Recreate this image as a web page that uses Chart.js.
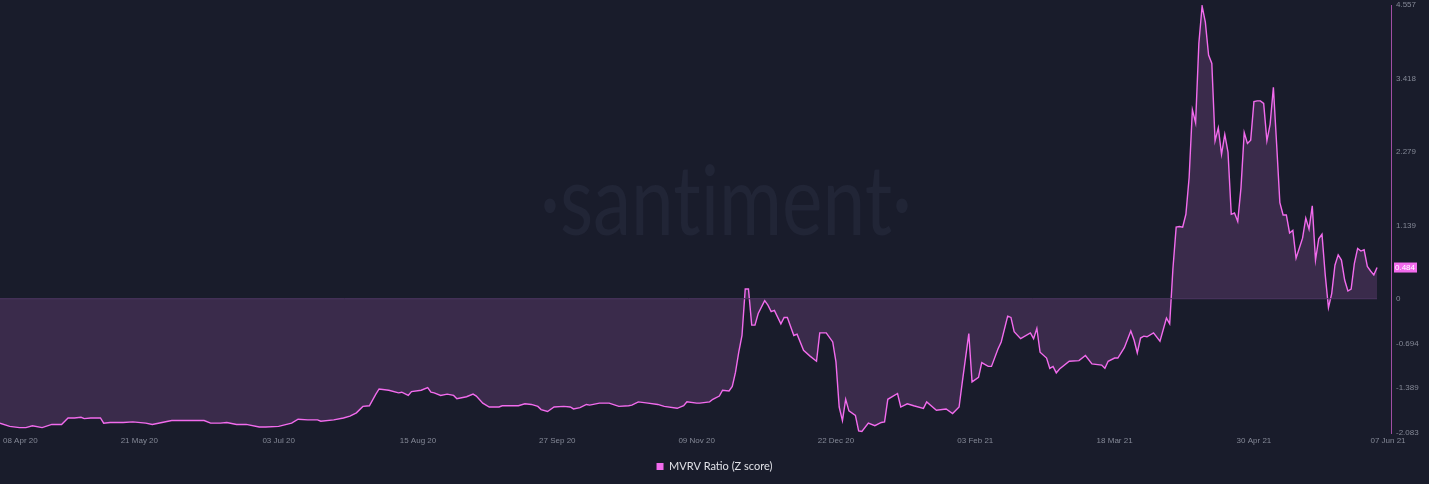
<!DOCTYPE html>
<html>
<head>
<meta charset="utf-8">
<title>MVRV Ratio (Z score)</title>
<script src="https://cdn.jsdelivr.net/npm/chart.js@4.4.1/dist/chart.umd.min.js"></script>
<style>
  html, body { margin: 0; padding: 0; background: #191c2b; }
  #wrap { width: 1429px; height: 484px; position: relative; }
</style>
</head>
<body>
<div id="wrap"><canvas id="mvrvChart"></canvas></div>
<script>
// day number counted from 08 Apr 2020
const days = [
  0, 3, 6, 8, 10, 13, 16, 19, 21, 23, 25, 26, 28, 31, 32, 34, 38, 41, 45, 47, 50,
  53, 56, 63, 65, 68, 70, 73, 76, 80, 82, 86, 90, 92, 95, 98, 99, 103, 106, 108,
  110, 112, 114, 116, 117, 120, 123, 124, 126, 127, 130, 132, 133, 134, 136, 138, 140, 141, 144, 146, 147,
  149, 151, 154, 155, 160, 162, 164, 166, 167, 169, 171, 174, 176, 177, 179, 181, 182, 185, 188, 191, 194,
  195, 197, 200, 203, 205, 209, 211, 212, 215, 216, 219, 220, 222, 223, 225, 226, 227, 228, 229, 230, 231,
  232, 233, 234, 236, 237, 238, 239, 241, 242, 243, 245, 246, 248, 250, 252, 253, 255, 257, 258, 259, 260,
  261, 262, 264, 265, 266, 268, 270, 272, 273, 274, 277, 278, 280, 282, 285, 286, 289, 292, 294, 296, 297,
  299, 300, 302, 303, 305, 306, 308, 309, 311, 312, 313, 315, 318, 319, 320, 321, 323, 324, 325, 326, 327,
  330, 333, 335, 337, 340, 341, 342, 344, 345, 347, 349, 350, 351, 352, 353, 354, 356, 358, 360, 361, 362,
  363, 364, 365, 366, 367, 368, 369, 370, 371, 372, 373, 374, 375, 376, 377, 378, 379, 380, 381, 382, 383,
  384, 385, 386, 387, 388, 389, 390, 391, 392, 393, 394, 395, 396, 397, 398, 399, 400, 402, 403, 404, 405,
  406, 407, 408, 409, 410, 411, 412, 413, 414, 415, 416, 417, 418, 419, 420, 421, 422, 423, 424, 425
];
const mvrv = [
  -1.93, -1.98, -2.00, -2.00, -1.97, -2.00, -1.95, -1.95, -1.85, -1.85, -1.84, -1.86, -1.85, -1.85, -1.93, -1.92, -1.92, -1.91, -1.93, -1.95, -1.92,
  -1.89, -1.89, -1.89, -1.93, -1.93, -1.92, -1.95, -1.95, -1.99, -1.99, -1.98, -1.93, -1.87, -1.88, -1.88, -1.90, -1.88, -1.85, -1.82,
  -1.77, -1.67, -1.66, -1.48, -1.40, -1.42, -1.46, -1.45, -1.50, -1.44, -1.42, -1.38, -1.45, -1.46, -1.50, -1.48, -1.50, -1.55, -1.52, -1.48, -1.51,
  -1.62, -1.68, -1.68, -1.66, -1.66, -1.63, -1.64, -1.67, -1.72, -1.75, -1.68, -1.67, -1.68, -1.71, -1.69, -1.64, -1.65, -1.62, -1.62, -1.67, -1.66,
  -1.65, -1.60, -1.62, -1.64, -1.67, -1.70, -1.66, -1.60, -1.62, -1.62, -1.60, -1.56, -1.51, -1.42, -1.43, -1.36, -1.14, -0.83, -0.57, 0.15, 0.15,
  -0.41, -0.41, -0.23, -0.03, -0.10, -0.20, -0.18, -0.39, -0.29, -0.29, -0.57, -0.55, -0.80, -0.89, -0.97, -0.53, -0.53, -0.67, -0.98, -1.68, -1.89,
  -1.56, -1.74, -1.81, -2.05, -2.06, -1.93, -1.97, -1.92, -1.91, -1.56, -1.47, -1.68, -1.63, -1.66, -1.70, -1.60, -1.73, -1.71, -1.78, -1.68, -1.29,
  -0.54, -1.29, -1.22, -0.99, -1.05, -1.05, -0.78, -0.67, -0.27, -0.29, -0.51, -0.62, -0.53, -0.62, -0.46, -0.83, -0.92, -1.08, -1.05, -1.15, -1.09,
  -0.97, -0.96, -0.88, -1.01, -1.03, -1.08, -0.97, -0.92, -0.92, -0.76, -0.50, -0.64, -0.84, -0.61, -0.58, -0.59, -0.53, -0.66, -0.30, -0.39, 0.47,
  1.11, 1.12, 1.11, 1.31, 1.88, 2.93, 2.73, 3.96, 4.54, 4.29, 3.78, 3.65, 2.45, 2.65, 2.24, 2.55, 2.27, 1.31, 1.33, 1.20, 1.72,
  2.58, 2.41, 2.46, 3.06, 3.07, 3.07, 3.03, 2.45, 2.71, 3.28, 2.40, 1.49, 1.30, 1.30, 1.02, 1.06, 0.63, 0.94, 1.25, 1.08, 1.44,
  0.60, 0.93, 1.00, 0.37, -0.14, 0.08, 0.52, 0.68, 0.60, 0.29, 0.12, 0.15, 0.55, 0.78, 0.74, 0.76, 0.50, 0.43, 0.37, 0.484
];

const tickDays = [0, 43, 86, 129, 172, 215, 258, 301, 344, 387, 425];
const tickLabels = ['08 Apr 20', '21 May 20', '03 Jul 20', '15 Aug 20', '27 Sep 20', '09 Nov 20',
  '22 Dec 20', '03 Feb 21', '18 Mar 21', '30 Apr 21', '07 Jun 21'];
const yTicks = [-2.083, -1.389, -0.694, 0, 1.139, 2.279, 3.418, 4.557];
const yTickLabels = ['-2.083', '-1.389', '-0.694', '0', '1.139', '2.279', '3.418', '4.557'];

const BG = '#191c2b';
const PINK = '#f26bed';
const tickFont = '8px "Liberation Sans", Arial, sans-serif';

const santimentPlugin = {
  id: 'santiment',
  beforeDraw(chart) {
    const ctx = chart.ctx;
    ctx.save();
    ctx.fillStyle = BG;
    ctx.fillRect(0, 0, chart.width, chart.height);
    // watermark (ZWNJ keeps "t" and "i" apart)
    const text = '\u00B7sant\u200Ciment\u00B7';
    ctx.font = '400 96px Lato, sans-serif';
    const w = ctx.measureText(text).width;
    ctx.translate(726, 235);
    ctx.scale(372 / w, 1);
    ctx.fillStyle = '#212536';
    ctx.textAlign = 'center';
    ctx.textBaseline = 'alphabetic';
    ctx.fillText(text, 0, 0);
    ctx.restore();
  },
  afterDraw(chart) {
    const ctx = chart.ctx;
    const area = chart.chartArea;
    const xs = chart.scales.x;
    const ys = chart.scales.y;
    ctx.save();
    ctx.font = tickFont;
    ctx.fillStyle = '#848896';
    ctx.textAlign = 'center';
    ctx.textBaseline = 'middle';
    tickDays.forEach((d, i) => {
      const w = ctx.measureText(tickLabels[i]).width;
      let x = Math.max(xs.getPixelForValue(d), w / 2 + 3);
      if (i === tickDays.length - 1) x = Math.max(x, area.right - 3);
      ctx.fillText(tickLabels[i], x, area.bottom + 8);
    });
    // last value tag
    const last = mvrv[mvrv.length - 1];
    const y = ys.getPixelForValue(last);
    ctx.fillStyle = PINK;
    ctx.fillRect(area.right + 3, y - 5, 23, 10);
    ctx.fillStyle = '#ffffff';
    ctx.textAlign = 'left';
    ctx.fillText(last.toFixed(3), area.right + 4, y + 0.5);
    ctx.restore();
  }
};

const ctx = document.getElementById('mvrvChart').getContext('2d');
new Chart(ctx, {
  type: 'line',
  data: {
    datasets: [
      {
        label: 'MVRV Ratio (Z score)',
        data: days.map((d, i) => ({ x: d, y: mvrv[i] })),
        borderColor: PINK,
        borderWidth: 1.4,
        backgroundColor: '#3a2b4b',
        fill: 'origin',
        pointRadius: 0,
        tension: 0,
        order: 1
      },
      {
        label: 'zero',
        data: [{ x: days[0], y: 0 }, { x: days[days.length - 1], y: 0 }],
        borderColor: '#4e3662',
        borderWidth: 1,
        pointRadius: 0,
        fill: false,
        order: 0
      }
    ]
  },
  options: {
    responsive: true,
    maintainAspectRatio: false,
    animation: false,
    layout: { padding: { top: 0, left: 0, right: 0, bottom: 2 } },
    scales: {
      x: {
        type: 'linear',
        min: 0,
        max: 429.3,
        grid: { display: false },
        border: { display: false },
        ticks: { display: false },
        afterFit: s => { s.height = 18; }
      },
      y: {
        position: 'right',
        min: -2.083,
        max: 4.557,
        afterBuildTicks: s => { s.ticks = yTicks.map(v => ({ value: v })); },
        afterFit: s => { s.width = 38; s.paddingTop = 5; s.paddingBottom = 0; },
        grid: { display: false, drawTicks: false },
        border: { display: true, color: '#a04ea4', width: 1 },
        ticks: {
          padding: 5,
          color: '#848896',
          font: { family: '"Liberation Sans", Arial, sans-serif', size: 8 },
          callback: (v) => yTickLabels[yTicks.indexOf(v)]
        }
      }
    },
    plugins: {
      tooltip: { enabled: false },
      legend: {
        position: 'bottom',
        labels: {
          boxWidth: 7,
          boxHeight: 7,
          padding: 10,
          color: '#e0e1e7',
          font: { family: 'Lato, sans-serif', size: 11 },
          filter: item => item.datasetIndex === 0,
          generateLabels: chart => Chart.defaults.plugins.legend.labels.generateLabels(chart)
            .map(l => Object.assign(l, { fillStyle: PINK, strokeStyle: PINK, lineWidth: 0 }))
        }
      }
    }
  },
  plugins: [santimentPlugin]
});
</script>
</body>
</html>
